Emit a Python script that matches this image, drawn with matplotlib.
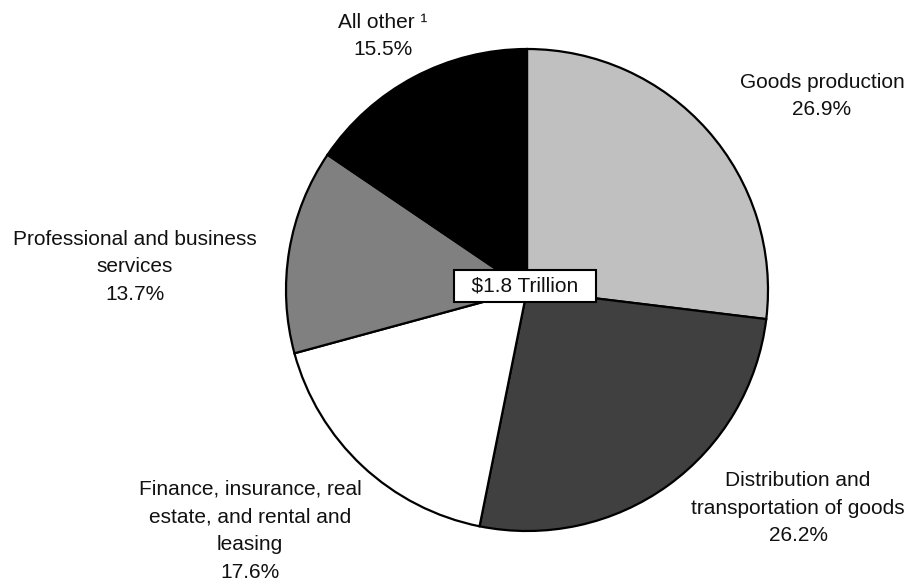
import matplotlib
matplotlib.use("Agg")
import matplotlib.pyplot as plt

plt.rcParams['font.family'] = ['Liberation Sans', 'DejaVu Sans']

# sector shares, clockwise from 12 o'clock
sectors = ["Goods production",
           "Distribution and\ntransportation of goods",
           "Finance, insurance, real\nestate, and rental and\nleasing",
           "Professional and business\nservices",
           "All other \u00b9"]
shares = [26.9, 26.2, 17.6, 13.7, 15.5]
colors = ["#c0c0c0", "#404040", "#ffffff", "#808080", "#000000"]
total_label = r"\$1.8 Trillion"

# label anchor points in pixel space (x, y from top)
label_pos = [(822, 96), (798, 508), (250, 531), (135, 267), (383, 36)]

W, H = 909, 583
fig = plt.figure(figsize=(W / 100, H / 100), dpi=100)
ax = fig.add_axes([0, 0, 1, 1])

ax.pie(shares, colors=colors, startangle=90, counterclock=False,
       center=(527, H - 290), radius=241, frame=True,
       wedgeprops=dict(edgecolor="black", linewidth=1.6))
ax.set_xlim(0, W)
ax.set_ylim(0, H)
ax.set_aspect("equal")
ax.axis("off")

for name, val, (x, y) in zip(sectors, shares, label_pos):
    ax.text(x, H - y, f"{name}\n{val:.1f}%", ha="center", va="center",
            fontsize=15, linespacing=1.58, color="#111111")

ax.text(525, H - 286, "  " + total_label + "  ", ha="center", va="center",
        fontsize=15, color="#111111",
        bbox=dict(boxstyle="square,pad=0.3", facecolor="white",
                  edgecolor="black", linewidth=1.5))

fig.savefig("out.png", dpi=100)
